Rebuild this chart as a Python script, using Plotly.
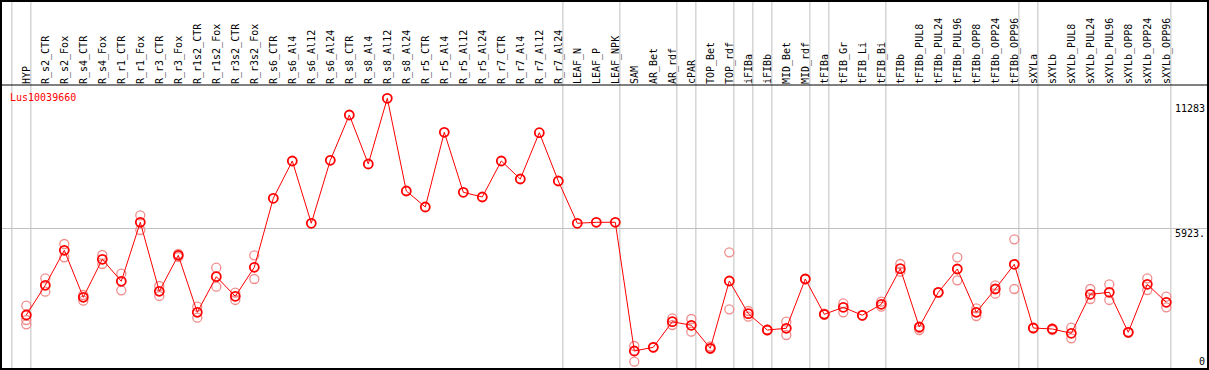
import plotly.graph_objects as go

categories = ["HYP", "R_s2_CTR", "R_s2_Fox", "R_s4_CTR", "R_s4_Fox", "R_r1_CTR", "R_r1_Fox",
              "R_r3_CTR", "R_r3_Fox", "R_r1s2_CTR", "R_r1s2_Fox", "R_r3s2_CTR", "R_r3s2_Fox",
              "R_s6_CTR", "R_s6_Al4", "R_s6_Al12", "R_s6_Al24", "R_s8_CTR", "R_s8_Al4", "R_s8_Al12",
              "R_s8_Al24", "R_r5_CTR", "R_r5_Al4", "R_r5_Al12", "R_r5_Al24", "R_r7_CTR", "R_r7_Al4",
              "R_r7_Al12", "R_r7_Al24", "LEAF_N", "LEAF_P", "LEAF_NPK", "SAM", "AR_Bet", "AR_rdf",
              "cPAR", "TOP_Bet", "TOP_rdf", "iFIBa", "iFIBb", "MID_Bet", "MID_rdf", "tFIBa",
              "tFIB_Gr", "tFIB_Li", "tFIB_Bi", "tFIBb", "tFIBb_PUL8", "tFIBb_PUL24", "tFIBb_PUL96",
              "tFIBb_OPP8", "tFIBb_OPP24", "tFIBb_OPP96", "sXYLa", "sXYLb", "sXYLb_PUL8",
              "sXYLb_PUL24", "sXYLb_PUL96", "sXYLb_OPP8", "sXYLb_OPP24", "sXYLb_OPP96"]

mean_values = [2092, 3414, 4972, 2880, 4571, 3592, 6218, 3147, 4749, 2212, 3797, 2924, 4215,
               7286, 8947, 6174, 8978, 10994, 8813, 11737, 7611, 6899, 10224, 7553, 7344, 8947,
               8145, 10206, 8056, 6174, 6218, 6218, 490, 654, 1794, 1634, 610, 3605, 2150, 1424,
               1500, 3694, 2123, 2435, 2079, 2568, 4153, 1558, 3102, 4139, 2212, 3249, 4349, 1513,
               1469, 1277, 3013, 3102, 1322, 3458, 2657]

replicates = [[2506, 1869, 1678], [3726, 3129], [5252, 4660], [2728, 2982], [4763, 4362],
              [3930, 3191], [6530, 5875], [3383, 2938], [4807, 4674], [2461, 1972], [4197, 3352],
              [3085, 2760], [4749, 3694],
              [], [], [], [], [], [], [], [], [], [], [], [], [], [], [], [], [], [], [],
              [712, 13], [670, 640], [1945, 1647], [1914, 1349], [579, 690], [4883, 2346],
              [2270, 2016], [1440, 1410], [1794, 1202], [3694, 3690], [2100, 2150], [2613, 2212],
              [2079, 2060], [2684, 2461], [4362, 4019], [1424, 1520], [3102, 3080], [4660, 3636],
              [2390, 2047], [3414, 3040], [5461, 3249], [1513, 1500], [1424, 1480], [1527, 1055],
              [3249, 2804], [3458, 2760], [1340, 1300], [3726, 3205], [2907, 2435]]

group_ends = [-1, 0, 28, 31, 34, 35, 37, 38, 39, 41, 42, 45, 52, 53, 60]

y_ticks = [0, 5923, 11283]
y_tick_text = ["0", "5923.", "11283"]
gene_label = "Lus10039660"

FONT = "DejaVu Sans Mono"
x_idx = list(range(len(categories)))

rep_x, rep_y = [], []
for i, reps in enumerate(replicates):
    for r in reps:
        rep_x.append(i)
        rep_y.append(r)

fig = go.Figure()
fig.add_trace(go.Scatter(x=rep_x, y=rep_y, mode="markers",
                         marker=dict(symbol="circle-open", size=9, color="#f08c8c",
                                     line=dict(width=1.3, color="#f08c8c")),
                         hoverinfo="skip", showlegend=False))
fig.add_trace(go.Scatter(x=x_idx, y=mean_values, mode="lines+markers",
                         line=dict(color="#ff0000", width=1),
                         marker=dict(symbol="circle-open", size=9, color="#ff0000",
                                     line=dict(width=1.8, color="#ff0000")),
                         hoverinfo="skip", showlegend=False))

H_TOP = 85
PLOT_H = 369 - H_TOP
top_paper = (369 - 1) / PLOT_H

shapes = []
for g in group_ends:
    shapes.append(dict(type="line", xref="x", yref="paper", x0=g + 0.24, x1=g + 0.24,
                       y0=0, y1=top_paper, line=dict(color="#c0c0c0", width=1), layer="below"))
shapes.append(dict(type="line", xref="paper", yref="paper", x0=0, x1=1, y0=1, y1=1,
                   line=dict(color="black", width=1)))
shapes.append(dict(type="rect", xref="paper", yref="paper", x0=0, x1=1, y0=0, y1=top_paper,
                   line=dict(color="black", width=2)))

annotations = [dict(text=gene_label, xref="paper", yref="paper", x=(8 - 1) / 1207,
                    y=(369 - 97) / PLOT_H, xanchor="left", yanchor="middle", showarrow=False,
                    font=dict(family=FONT, size=10, color="#ff0000"))]
for v, t in zip(y_ticks, y_tick_text):
    annotations.append(dict(text=t, xref="paper", yref="y", x=1, y=v, xanchor="right",
                            yanchor="top" if t == "5923." else "middle",
                            yshift=3 if t == "5923." else 0, xshift=-1,
                            showarrow=False, font=dict(family=FONT, size=10, color="black")))

x_left = (1 - 26.3) / 19
x_right = (1208 - 26.3) / 19

fig.update_layout(
    width=1209, height=370,
    margin=dict(l=1, r=1, t=H_TOP, b=1, pad=0, autoexpand=False),
    paper_bgcolor="white", plot_bgcolor="white",
    xaxis=dict(range=[x_left, x_right], side="top", tickmode="array", tickvals=x_idx,
               ticktext=categories, tickangle=-90, showgrid=False, zeroline=False,
               showline=False, ticks="", automargin=False,
               tickfont=dict(family=FONT, size=10, color="black")),
    yaxis=dict(range=[-312, 12329], tickmode="array", tickvals=[5923], showticklabels=False,
               showgrid=True, gridcolor="#c0c0c0", gridwidth=1, zeroline=False, showline=False,
               automargin=False),
    shapes=shapes, annotations=annotations,
)

fig.write_html("out.html", config={"displayModeBar": False},
               post_script="document.body.style.margin='0';document.body.style.overflow='hidden';")
